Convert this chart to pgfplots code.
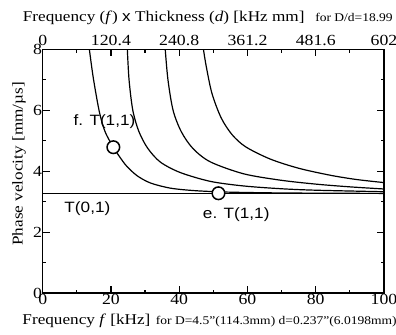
\documentclass[border=0pt]{standalone}
\usepackage{fontspec}
\setmainfont{Liberation Serif}[FakeStretch=1.15]
\newfontfamily\arial{Liberation Sans}[FakeStretch=1.15]
\usepackage{pgfplots}
\pgfplotsset{compat=1.18}
\begin{document}
\begin{tikzpicture}
\pgfplotsset{
  common/.style={
    scale only axis, width=341.3bp, height=244bp,
    ymin=0, ymax=8,
    axis line style={line width=1.6bp},
    tick align=inside,
    major tick length=7bp, minor tick length=3.5bp,
    every tick/.style={line width=1.2bp, black},
    /pgf/number format/assume math mode=true,
    tick label style={font=\fontsize{15.5}{16}\selectfont},
    clip=false,
  }
}
\begin{axis}[common,
  xmin=0, xmax=100,
  xtick={0,20,...,100}, minor xtick={10,30,50,70,90},
  ytick={0,2,...,8}, minor ytick={1,3,5,7},
  xtick pos=left, ytick pos=both, yticklabel pos=left,
  xticklabel style={inner sep=1bp},
  yticklabel style={inner sep=0.5bp},
]
% T(0,1)
\addplot[black, line width=1.2bp] coordinates {(0,3.26) (100,3.26)};
% T(1,1)
\addplot[black, line width=1.2bp, smooth, tension=0.5] coordinates {
(13.67,8.0) (14.84,7.05) (16.6,5.95) (18.27,5.30) (20.7,4.79) (22.7,4.45)
(24.6,4.17) (27.6,3.86) (31.5,3.62) (37.3,3.45) (44,3.37) (52,3.325)
(60,3.305) (70,3.29) (85,3.28) (100,3.275)};
% second
\addplot[black, line width=1.2bp, smooth, tension=0.5] coordinates {
(24.8,8.0) (25.3,7.0) (26.4,6.0) (28.2,5.30) (30.8,4.75) (34.5,4.30)
(40.3,3.96) (49.1,3.67) (58.8,3.52) (69.6,3.43) (80,3.38) (100,3.33)};
% third
\addplot[black, line width=1.2bp, smooth, tension=0.5] coordinates {
(35.9,8.0) (36.7,7.0) (38.2,6.0) (40.6,5.30) (44.0,4.75) (49.1,4.31)
(58.8,3.92) (69.6,3.71) (80,3.58) (90,3.49) (100,3.42)};
% fourth
\addplot[black, line width=1.2bp, smooth, tension=0.5] coordinates {
(47.1,8.0) (47.9,7.45) (49.6,6.55) (52.3,5.75) (55.5,5.2) (59.5,4.8)
(66.7,4.40) (75,4.1) (84.3,3.87) (92,3.73) (100,3.63)};
% circles
\addplot[only marks, mark=*, mark size=6.3bp,
  mark options={fill=white, draw=black, line width=1.5bp}]
  coordinates {(20.7,4.79) (51.5,3.28)};
\node[font=\arial\fontsize{15}{16}\selectfont] at (axis cs:18.1,5.63) {f. T(1,1)};
\node[font=\arial\fontsize{15}{16}\selectfont] at (axis cs:56.7,2.57) {e. T(1,1)};
\node[font=\arial\fontsize{15}{16}\selectfont] at (axis cs:13.1,2.76) {T(0,1)};
% axis labels
\node[anchor=base west, inner sep=0pt, font=\fontsize{15}{16}\selectfont]
  at (axis cs:-5.98,-1.039) {Frequency \textit{f} [kHz]};
\node[anchor=base west, inner sep=0pt, font=\fontsize{11.8}{12}\selectfont]
  at (axis cs:33.1,-1.039) {for D=4.5"(114.3mm) d=0.237"(6.0198mm)};
\node[anchor=base west, inner sep=0pt, font=\fontsize{15}{16}\selectfont]
  at (axis cs:-5.86,8.905) {Frequency (\textit{f}) {\arial x} Thickness (\textit{d}) [kHz mm]};
\node[anchor=base west, inner sep=0pt, font=\fontsize{11.8}{12}\selectfont]
  at (axis cs:79.8,8.905) {for D/d=18.99};
\node[rotate=90, anchor=center, inner sep=0pt, font=\fontsize{15}{16}\selectfont]
  at (axis cs:-6.94,4.24) {Phase velocity [mm/µs]};
\end{axis}
\begin{axis}[common,
  xmin=0, xmax=602,
  hide y axis,
  xtick={0,120.4,240.8,361.2,481.6,602},
  xticklabels={0,120.4,240.8,361.2,481.6,602},
  minor xtick={60.2,180.6,301,421.4,541.8},
  xtick pos=right, xticklabel pos=right,
  xticklabel style={inner sep=3bp},
]
\end{axis}
\pgfresetboundingbox
\path (-42.7bp,-41.7bp) rectangle (353.3bp,293.3bp);
\end{tikzpicture}
\end{document}
